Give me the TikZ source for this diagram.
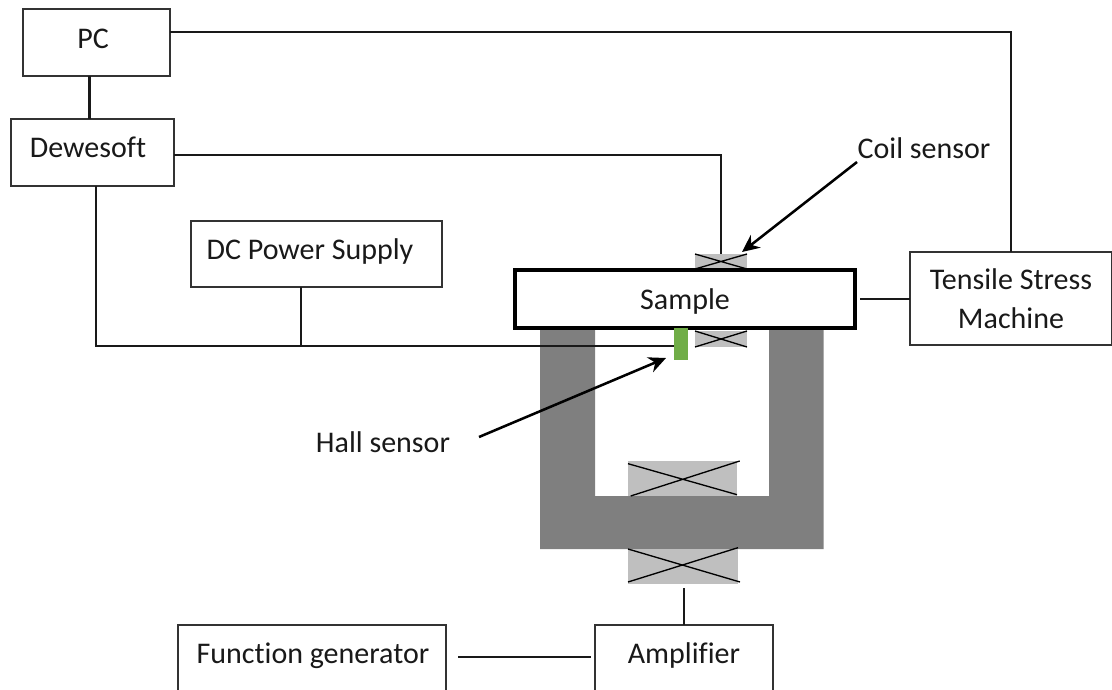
\documentclass[tikz,border=0pt]{standalone}
\usepackage{fontspec}
\setmainfont{Carlito}[Ligatures=NoCommon]
\definecolor{yokecolor}{HTML}{7F7F7F}
\definecolor{coilcolor}{HTML}{BFBFBF}
\definecolor{hallcolor}{HTML}{70AD47}
\usetikzlibrary{arrows.meta}
\newcommand\boxtext[3]{\hspace*{#1}\raisebox{#2}[0pt][0pt]{#3}}
\tikzset{
  box/.style={draw=black!80,line width=1pt,fill=white,inner sep=0pt,outer sep=0pt,align=center,
    font=\fontsize{22.5}{29}\selectfont,text=black!90},
  coil/.style={fill=coilcolor,inner sep=0pt,outer sep=0pt},
  wire/.style={line width=1.9pt,black!90},
  pointer/.style={line width=1.9pt,-{Stealth[length=13pt,width=12pt]}},
  tag/.style={font=\fontsize{22.5}{27}\selectfont,text=black!90,inner sep=0pt}
}
\begin{document}
\begin{tikzpicture}[x=.75pt,y=-.75pt]
\useasboundingbox (0,0) rectangle (1112,689);
\clip (0,0) rectangle (1112,689);
% yoke and coils
\fill[yokecolor] (540,328)--(595,328)--(595,496)--(769,496)--(769,328)--(823.5,328)--(823.5,549)--(540,549)--cycle;
\node[coil,minimum width=39pt,minimum height=11.25pt] (coiltop) at (721,261.5) {};
\node[coil,minimum width=39pt,minimum height=12pt] (coilbot) at (721,339) {};
\node[coil,minimum width=81.75pt,minimum height=26.25pt] (coilmid) at (682.5,478.5) {};
\node[coil,minimum width=82.5pt,minimum height=26.25pt] (coillow) at (683,566.5) {};
\foreach \c in {coiltop,coilbot}
  \draw[line width=1pt] (\c.north west)--(\c.south east) (\c.south west)--(\c.north east);
\draw[line width=1pt] ([yshift=-2pt]coilmid.north west)--([yshift=1pt]coilmid.south east)
  ([xshift=2pt]coilmid.south west)--([xshift=2pt]coilmid.north east);
\draw[line width=1pt] (coillow.north west)--([xshift=1.5pt,yshift=1.5pt]coillow.south east)
  ([yshift=1.5pt]coillow.south west)--([yshift=1pt]coillow.north east);
% instruments
\node[box,minimum width=110.25pt,minimum height=50.25pt] (pc) at (96.5,42.5) {\boxtext{-5.25pt}{-4.6pt}{PC}};
\node[box,minimum width=122.25pt,minimum height=50.25pt] (dewe) at (92.5,152.5) {\boxtext{-6.75pt}{-3.8pt}{Dewesoft}};
\node[box,minimum width=188.25pt,minimum height=49.5pt] (dc) at (316.5,254) {\boxtext{-9.75pt}{-3.75pt}{DC Power Supply}};
\node[box,minimum width=151.5pt,minimum height=69.75pt] (tensile) at (1011,298.5) {Tensile Stress\\Machine};
\node[box,minimum width=201pt,minimum height=54pt] (funcgen) at (312,661) {\boxtext{1.5pt}{-2pt}{Function generator}};
\node[box,minimum width=133.5pt,minimum height=54pt] (amp) at (684,661) {\boxtext{0pt}{-2pt}{Amplifier}};
\node[box,line width=3pt,draw=black,minimum width=255pt,minimum height=43.5pt] (sample) at (685,299) {\boxtext{0pt}{-8pt}{Sample}};
\node[fill=hallcolor,inner sep=0pt,outer sep=0pt,minimum width=10.5pt,minimum height=24pt] (hall) at (681,344) {};
% wiring
\coordinate (dcjoin) at (301,346);
\draw[wire] ([yshift=7.9pt]pc.east) -| (tensile.north);
\draw[wire] ([xshift=-5.25pt]pc.south) -- ([xshift=-2.25pt]dewe.north);
\draw[wire] ([yshift=-1.9pt]dewe.east) -| (coiltop.north);
\draw[wire] ([xshift=2.6pt]dewe.south) |- ([yshift=-1.5pt]hall.west);
\draw[wire] (dc.south -| dcjoin) -- (dcjoin);
\draw[wire] (sample.east) ++(4pt,0) -- (tensile.west |- sample.east);
\draw[wire] ([yshift=-3pt]coillow.south -| amp.north) -- (amp.north);
\draw[wire] ([xshift=9pt,yshift=3pt]funcgen.east) -- ([xshift=-3pt,yshift=3pt]amp.west);
% sensor labels
\node[tag] (coillabel) at (924,148) {Coil sensor};
\node[tag] (halllabel) at (383,442) {Hall sensor};
\coordinate (coiltail) at (857,162);
\coordinate (coilhead) at (742,252);
\coordinate (halltail) at (479,437);
\coordinate (hallhead) at (666,358);
\draw[pointer] (coiltail) -- (coilhead);
\draw[pointer] (halltail) -- (hallhead);
\end{tikzpicture}
\end{document}
